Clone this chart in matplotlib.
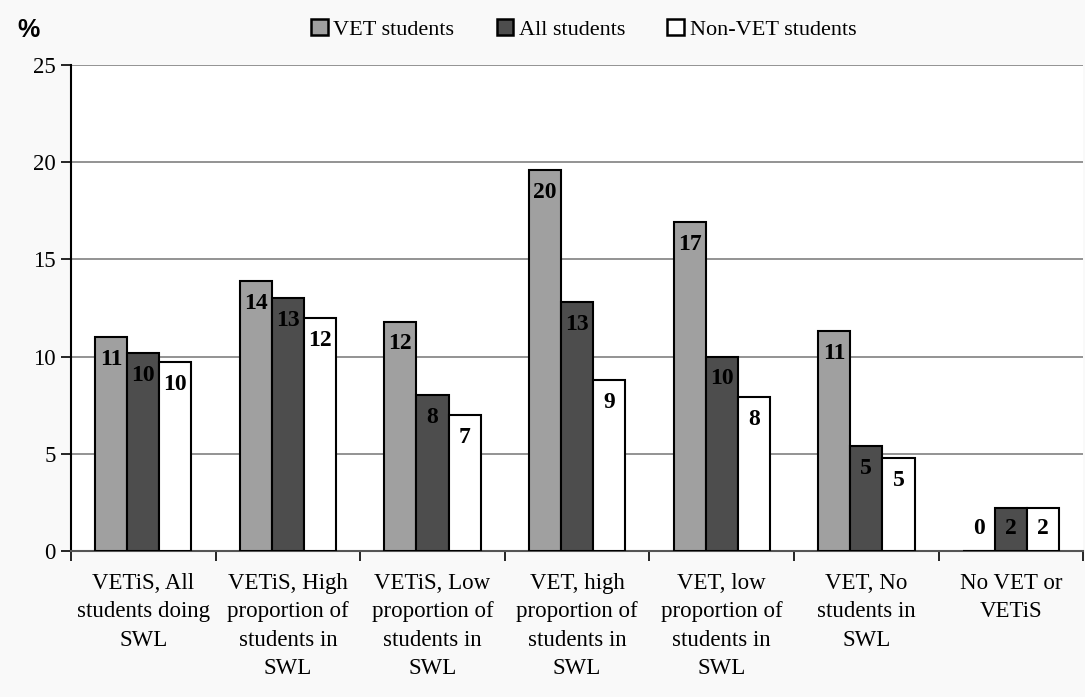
import numpy as np
import matplotlib
matplotlib.use("Agg")
import matplotlib.pyplot as plt
from matplotlib.ticker import FixedLocator, NullFormatter

# data
categories = ["VETiS, All\nstudents doing\nSWL",
              "VETiS, High\nproportion of\nstudents in\nSWL",
              "VETiS, Low\nproportion of\nstudents in\nSWL",
              "VET, high\nproportion of\nstudents in\nSWL",
              "VET, low\nproportion of\nstudents in\nSWL",
              "VET, No\nstudents in\nSWL",
              "No VET or\nVETiS"]
vet = [11.0, 13.9, 11.8, 19.6, 16.9, 11.3, 0.0]
all_students = [10.2, 13.0, 8.0, 12.8, 10.0, 5.4, 2.2]
non_vet = [9.7, 12.0, 7.0, 8.8, 7.9, 4.8, 2.2]
series_names = ["VET students", "All students", "Non-VET students"]
colors = ["#a0a0a0", "#4d4d4d", "#ffffff"]

plt.rcParams["font.family"] = ["Liberation Serif", "DejaVu Serif"]

fig = plt.figure(figsize=(10.85, 6.97), dpi=100, facecolor="#f9f9f9")
ax = fig.add_axes([0.0654, 0.2095, 0.933, 0.6972])
ax.set_facecolor("white")

x = np.arange(len(categories))
w = 1 / 4.5
for i, (vals, name, c) in enumerate(zip([vet, all_students, non_vet], series_names, colors)):
    ax.bar(x + (i - 1) * w, vals, w, color=c, edgecolor="black", linewidth=1.5,
           label=name, zorder=3)
    for xi, v in zip(x, vals):
        ax.text(xi + (i - 1) * w, max(v - 1.15, 1.15), f"{v:.0f}",
                ha="center", va="center", fontsize=17, fontweight="bold", zorder=4)

ax.set_xlim(-0.5, len(categories) - 0.5)
ax.set_ylim(0, 25)
ax.set_yticks([0, 5, 10, 15, 20, 25])
ax.yaxis.grid(True, color="#808080", linewidth=1.2, zorder=0)
ax.tick_params(axis="y", labelsize=16.5, length=7, width=1.2, direction="out", pad=4)

ax.xaxis.set_major_locator(FixedLocator(np.arange(-0.5, len(categories), 1.0)))
ax.xaxis.set_major_formatter(NullFormatter())
ax.xaxis.set_minor_locator(FixedLocator(x))
ax.set_xticklabels(categories, minor=True, fontsize=16.5, linespacing=1.45)
ax.tick_params(axis="x", which="major", length=7, width=1.2)
ax.tick_params(axis="x", which="minor", length=0, pad=16)

for s in ["top", "right"]:
    ax.spines[s].set_visible(False)
ax.spines["left"].set_linewidth(1.5)
ax.spines["bottom"].set_color("#555555")
ax.spines["bottom"].set_linewidth(1.5)

fig.text(0.026, 0.957, "%", fontsize=18, fontweight="bold", family="Liberation Sans",
         ha="center", va="center")

leg = fig.legend(loc="center", bbox_to_anchor=(0.538, 0.958), ncol=3, frameon=False,
                 fontsize=16, handlelength=0.75, handleheight=0.75, handletextpad=0.25,
                 columnspacing=1.9)
for h in leg.legend_handles:
    h.set_linewidth(1.8)

fig.savefig("out.png", dpi=100, facecolor=fig.get_facecolor())
